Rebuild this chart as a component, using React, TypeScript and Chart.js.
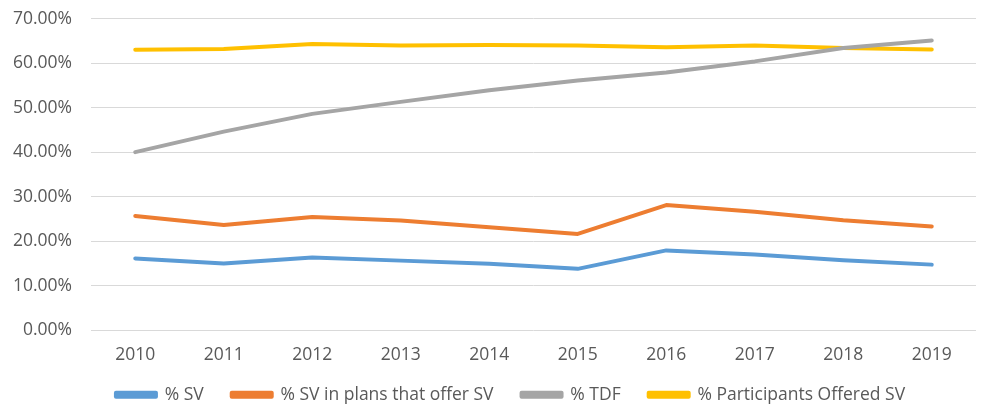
import React, { useEffect, useRef } from "react";
import { Chart, registerables } from "chart.js";

Chart.register(...registerables);

const years = ["2010", "2011", "2012", "2013", "2014", "2015", "2016", "2017", "2018", "2019"];
const pctSV = [16.1, 14.95, 16.3, 15.6, 14.9, 13.75, 17.9, 17.0, 15.7, 14.7];
const pctSVInPlans = [25.65, 23.6, 25.4, 24.6, 23.1, 21.6, 28.1, 26.6, 24.7, 23.3];
const pctTDF = [40.0, 44.6, 48.6, 51.3, 53.9, 56.1, 57.9, 60.4, 63.4, 65.1];
const pctOffered = [63.0, 63.2, 64.3, 64.0, 64.1, 64.0, 63.6, 64.0, 63.4, 63.1];

export default function App() {
  const ref = useRef<HTMLCanvasElement | null>(null);
  useEffect(() => {
    document.body.style.margin = "0";
    const font = "'Open Sans', 'Noto Sans', sans-serif";
    const mk = (label: string, data: number[], color: string) => ({
      label,
      data,
      borderColor: color,
      backgroundColor: color,
      borderWidth: 4,
      pointRadius: 0,
      tension: 0,
      borderCapStyle: "round" as const,
      borderJoinStyle: "round" as const,
    });
    const legendShift = {
      id: "legendShift",
      afterLayout(c: any) {
        if (c.legend) {
          c.legend.left += 16;
          c.legend.right += 16;
          c.legend.top -= 8;
          c.legend.bottom = c.height;
          c.legend.height = c.legend.bottom - c.legend.top;
        }
      },
    };
    const chart = new Chart(ref.current!, {
      type: "line",
      data: {
        labels: years,
        datasets: [
          mk("% SV", pctSV, "#5B9BD5"),
          mk("% SV in plans that offer SV", pctSVInPlans, "#ED7D31"),
          mk("% TDF", pctTDF, "#A5A5A5"),
          mk("% Participants Offered SV", pctOffered, "#FFC000"),
        ],
      },
      plugins: [legendShift],
      options: {
        animation: false,
        responsive: false,
        maintainAspectRatio: false,
        layout: { padding: { left: 13, right: 6, top: 0, bottom: 0 } },
        plugins: {
          tooltip: { enabled: false },
          legend: {
            position: "bottom",
            maxHeight: 38,
            labels: {
              boxWidth: 40,
              boxHeight: 4,
              padding: 28,
              color: "#595959",
              font: { family: font, size: 17.5 },
            },
          },
        },
        scales: {
          x: {
            offset: true,
            grid: { display: false, drawTicks: false },
            border: { display: false },
            ticks: { color: "#595959", font: { family: font, size: 17.5 }, padding: 15 },
            afterFit: (s: any) => { s.height = 36; },
          },
          y: {
            min: 0,
            max: 70,
            grid: { color: "#D9D9D9", lineWidth: 1, drawTicks: false },
            border: { display: false },
            ticks: {
              stepSize: 10,
              color: "#595959",
              font: { family: font, size: 17.5 },
              padding: 19,
              callback: (v: any) => Number(v).toFixed(2) + "%",
            },
            afterFit: (s: any) => { s.width = 78; s.paddingTop = 18.7; s.paddingBottom = 0; },
          },
        },
      },
    });
    return () => chart.destroy();
  }, []);
  return (
    <div style={{ width: 982, height: 404, background: "#fff" }}>
      <canvas ref={ref} width={982} height={404} style={{ width: 982, height: 404 }} />
    </div>
  );
}
